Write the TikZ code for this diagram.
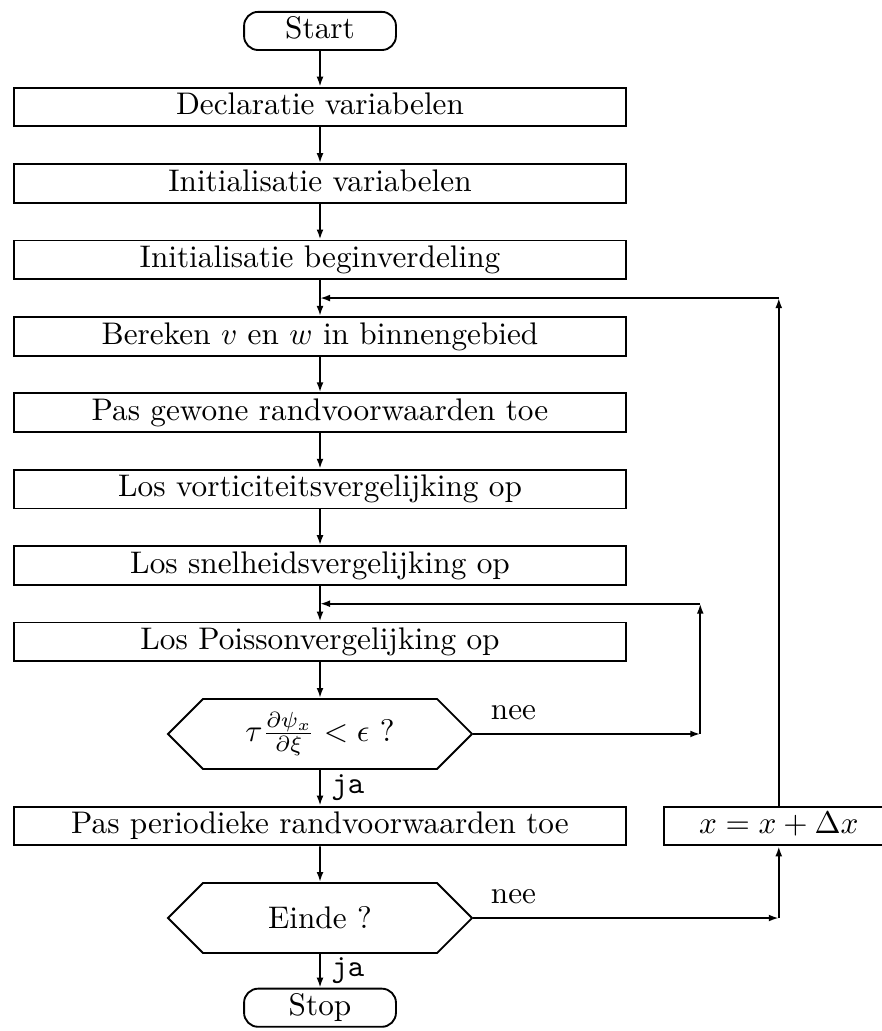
\documentclass[tikz,border=0pt]{standalone}
\usetikzlibrary{arrows.meta,positioning,shapes.symbols}

\begin{document}
\begin{tikzpicture}[
  >={Latex[length=3.2pt,width=2.2pt]},
  node distance=11.45pt,
  line width=0.6pt,
  box/.style={draw,minimum width=195.8pt,minimum height=12.4pt,inner sep=0pt,text height=7pt,text depth=2pt},
  term/.style={draw,rounded corners=4.5pt,minimum width=48.6pt,minimum height=12.2pt,inner sep=0pt,text height=7pt,text depth=2pt},
  test/.style={draw,signal,signal to=east and west,signal pointer angle=90,minimum width=97.3pt,minimum height=22.4pt,inner sep=0pt},
  link/.style={->},
  yes/.style={right,font=\ttfamily},
  no/.style={pos=0,anchor=south west,xshift=2pt,yshift=1pt}
]
  \path[use as bounding box,clip] (-102.4pt,9.9pt) rectangle (179.8pt,-320pt);
  \node[term] (start) {Start};
  \node[box,below=of start] (decl) {Declaratie variabelen};
  \node[box,below=of decl] (initvar) {Initialisatie variabelen};
  \node[box,below=of initvar] (initdist) {Initialisatie beginverdeling};
  \node[box,below=of initdist] (calc) {Bereken $v$ en $w$ in binnengebied};
  \node[box,below=of calc] (bound) {Pas gewone randvoorwaarden toe};
  \node[box,below=of bound] (vort) {Los vorticiteitsvergelijking op};
  \node[box,below=of vort] (speed) {Los snelheidsvergelijking op};
  \node[box,below=of speed] (poisson) {Los Poissonvergelijking op};
  \node[test,below=of poisson] (conv) {$\tau\frac{\partial\psi_x}{\partial\xi}<\epsilon$ ?};
  \node[box,below=of conv] (period) {Pas periodieke randvoorwaarden toe};
  \node[test,below=of period] (last) {Einde ?};
  \node[term,below=10.8pt of last] (stop) {Stop};
  \node[box,minimum width=73.6pt,right=11.5pt of period] (step) {$x=x+\Delta x$};

  % loop entry points
  \coordinate[below=5.72pt of initdist] (back);
  \coordinate[below=5.72pt of speed] (again);
  \coordinate[right=72.6pt of conv.east] (turn);

  \draw[link] (start) -- (decl);
  \draw[link] (decl) -- (initvar);
  \draw[link] (initvar) -- (initdist);
  \draw[link] (initdist) -- (calc);
  \draw[link] (calc) -- (bound);
  \draw[link] (bound) -- (vort);
  \draw[link] (vort) -- (speed);
  \draw[link] (speed) -- (poisson);
  \draw[link] (poisson) -- (conv);
  \draw[link] (conv) -- node[yes] {ja} (period);
  \draw[link] (period) -- (last);
  \draw[link] (last) -- node[yes] {ja} (stop);

  % inner loop
  \draw[link] (conv.east) -- node[no] {nee} (turn);
  \draw[link] (turn) -- (turn |- again);
  \draw[link] (turn |- again) -- (again);

  % outer loop
  \draw[link] (last.east) -- node[no] {nee} (last.east -| step);
  \draw[link] (last.east -| step) -- (step);
  \draw[link] (step) -- (step |- back);
  \draw[link] (step |- back) -- (back);
\end{tikzpicture}
\end{document}
